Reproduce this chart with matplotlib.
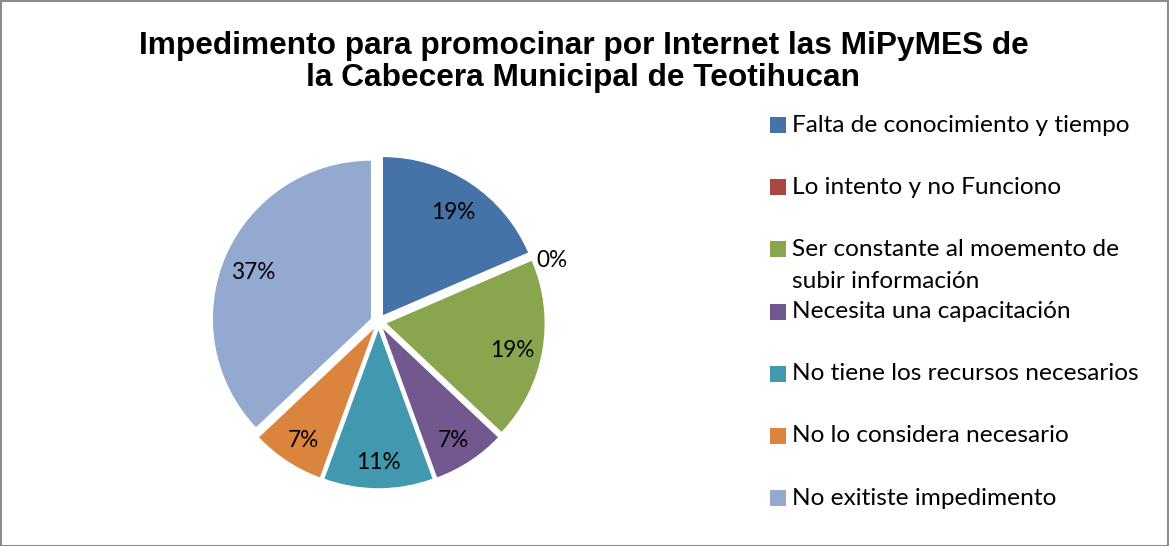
import matplotlib
matplotlib.use("Agg")
import matplotlib.pyplot as plt
from matplotlib.patches import Rectangle
import numpy as np

title = "Impedimento para promocinar por Internet las MiPyMES de\nla Cabecera Municipal de Teotihucan"
categories = [
    "Falta de conocimiento y tiempo",
    "Lo intento y no Funciono",
    "Ser constante al moemento de\nsubir información",
    "Necesita una capacitación",
    "No tiene los recursos necesarios",
    "No lo considera necesario",
    "No exitiste impedimento",
]
counts = [5, 0, 5, 2, 3, 2, 10]
colors = ["#4572A7", "#AA4643", "#89A54E", "#71588F", "#4198AF", "#DB843D", "#93A9CF"]

W, H = 1169, 546
fig = plt.figure(figsize=(W / 100, H / 100), dpi=100)
fig.patch.set_facecolor("white")

# pie axes: center (378.5, 322) px from top-left, radius 158 px
cx, cy, R = 378.5, 322, 158
half = 1.3 * R
ax = fig.add_axes([(cx - half) / W, (H - cy - half) / H, 2 * half / W, 2 * half / H])

wedges, texts, autotexts = ax.pie(
    counts, colors=colors, startangle=90, counterclock=False,
    explode=[0.052] * len(counts), radius=1.0,
    autopct=lambda p: f"{p:.0f}%", pctdistance=0.81,
    wedgeprops=dict(linewidth=0),
    textprops=dict(fontsize=16.3, family="Lato", color="black"),
)
ax.set_xlim(-1.3, 1.3)
ax.set_ylim(-1.3, 1.3)
ax.set_aspect("equal")
ax.axis("off")
for w, t, c in zip(wedges, autotexts, counts):
    x, y = t.get_position()
    if c == 0:
        ang = np.deg2rad((w.theta1 + w.theta2) / 2)
        t.set_position((1.09 * np.cos(ang), 1.09 * np.sin(ang) - 0.04))
        t.set_ha("left")
        t.set_va("center")
    else:
        t.set_position((x, y - 0.03))

# title
fig.text(583.5 / W, 1 - 62 / H, title, ha="center", va="center",
         fontsize=22.8, fontweight="bold", family="Liberation Sans",
         linespacing=1.12)

# legend drawn manually
y0, dy = 125, 62.2
for i, (lab, col) in enumerate(zip(categories, colors)):
    y = y0 + i * dy
    fig.add_artist(Rectangle((770 / W, 1 - (y + 8) / H), 16 / W, 16 / H,
                             transform=fig.transFigure, facecolor=col, edgecolor="none"))
    first, *rest = lab.split("\n")
    fig.text(792 / W, 1 - y / H, first, ha="left", va="center",
             fontsize=17.6, family="Lato")
    for j, r in enumerate(rest):
        fig.text(792 / W, 1 - (y + 32 * (j + 1)) / H, r, ha="left", va="center",
                 fontsize=17.6, family="Lato")

# outer border
fig.add_artist(Rectangle((0.5 / W, 0.5 / H), 1 - 1.5 / W, 1 - 1.5 / H,
                         transform=fig.transFigure, facecolor="none",
                         edgecolor="#8c8c8c", linewidth=1.5))

fig.savefig("out.png", dpi=100)
